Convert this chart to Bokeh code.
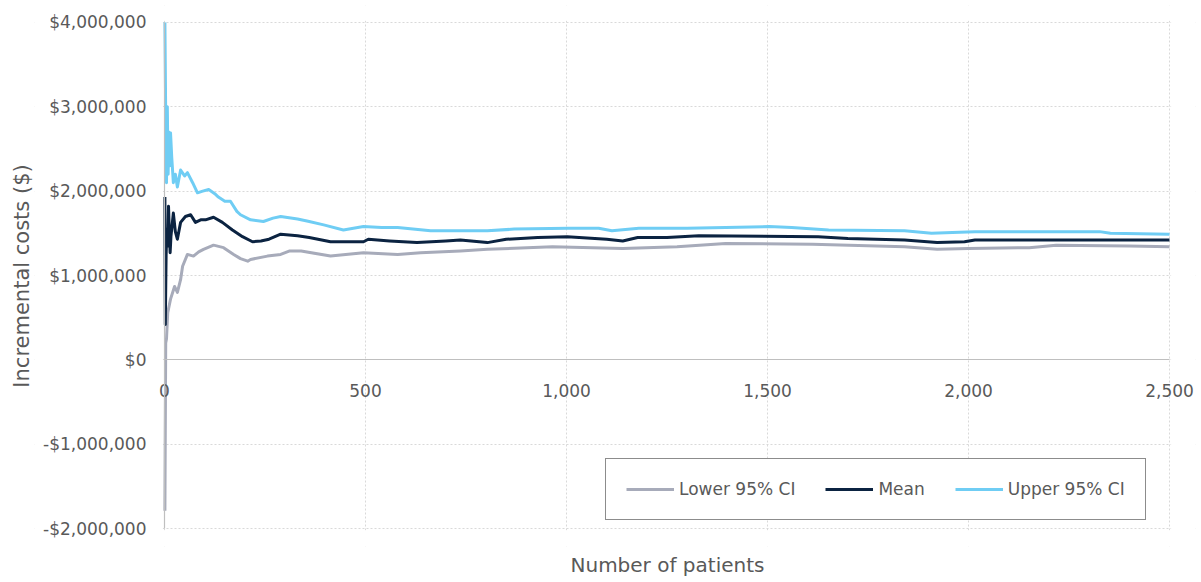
from bokeh.plotting import figure
from bokeh.models import (FixedTicker, LinearAxis, Legend, LegendItem, ColumnDataSource,
                          BoxAnnotation, Title)
from bokeh.embed import file_html
from bokeh.resources import INLINE

# ---------------- data ----------------
lower_patients = [1, 3, 5, 8, 15, 25, 32, 40, 45, 57, 72, 85, 97, 122, 147, 172, 189, 207, 214,
                  256, 289, 310, 340, 413, 495, 580, 637, 736, 803, 965, 1140, 1275, 1396, 1612,
                  1841, 1922, 2000, 2151, 2218, 2400, 2500]
lower_cost = [-1790000, 200000, 250000, 560000, 720000, 870000, 800000, 950000, 1110000, 1250000,
              1230000, 1280000, 1310000, 1360000, 1330000, 1250000, 1200000, 1170000, 1190000,
              1230000, 1250000, 1290000, 1290000, 1230000, 1270000, 1250000, 1270000, 1290000,
              1310000, 1340000, 1320000, 1340000, 1380000, 1370000, 1340000, 1310000, 1320000,
              1330000, 1360000, 1350000, 1340000]

mean_patients = [1, 2, 4, 6, 8, 10, 12, 14, 16, 19, 22, 27, 32, 40, 52, 65, 77, 90, 102, 122, 144,
                 169, 194, 219, 240, 260, 289, 331, 360, 413, 495, 507, 560, 628, 700, 736, 803,
                 850, 928, 1002, 1100, 1140, 1177, 1250, 1329, 1626, 1700, 1841, 1922, 1990, 2016,
                 2500]
mean_cost = [1930000, 420000, 1250000, 1550000, 1350000, 1820000, 1500000, 1270000, 1460000,
             1600000, 1740000, 1520000, 1430000, 1630000, 1700000, 1720000, 1630000, 1660000,
             1660000, 1690000, 1630000, 1540000, 1460000, 1400000, 1410000, 1430000, 1490000,
             1470000, 1450000, 1400000, 1400000, 1430000, 1410000, 1390000, 1410000, 1420000,
             1390000, 1430000, 1450000, 1460000, 1430000, 1410000, 1450000, 1450000, 1470000,
             1460000, 1440000, 1420000, 1390000, 1400000, 1420000, 1420000]

upper_patients = [1, 3, 5, 7, 9, 11, 13, 15, 18, 22, 27, 32, 40, 50, 57, 70, 82, 95, 110, 125, 134,
                  150, 164, 180, 189, 214, 246, 270, 289, 331, 360, 396, 445, 495, 540, 580, 662,
                  736, 803, 870, 1005, 1080, 1113, 1180, 1300, 1396, 1504, 1560, 1652, 1841, 1908,
                  1960, 2016, 2326, 2353, 2500]
upper_cost = [4000000, 2900000, 2100000, 3000000, 2200000, 2700000, 2300000, 2690000, 2400000,
              2100000, 2200000, 2050000, 2250000, 2180000, 2220000, 2100000, 1980000, 2000000,
              2020000, 1970000, 1930000, 1880000, 1880000, 1760000, 1720000, 1660000, 1640000,
              1680000, 1700000, 1670000, 1640000, 1600000, 1540000, 1580000, 1570000, 1570000,
              1530000, 1530000, 1530000, 1550000, 1560000, 1560000, 1530000, 1560000, 1560000,
              1570000, 1580000, 1570000, 1540000, 1530000, 1500000, 1510000, 1520000, 1520000,
              1500000, 1490000]

series_names = ["Lower 95% CI", "Mean", "Upper 95% CI"]
series_colors = ["#A7ABBA", "#0B2341", "#6FCDF4"]

x_ticks = [0, 500, 1000, 1500, 2000, 2500]
x_tick_labels = ["0", "500", "1,000", "1,500", "2,000", "2,500"]
y_ticks = [-2000000, -1000000, 0, 1000000, 2000000, 3000000, 4000000]
y_tick_labels = ["-$2,000,000", "-$1,000,000", "$0", "$1,000,000", "$2,000,000",
                 "$3,000,000", "$4,000,000"]

X_MIN, X_MAX = 0, 2500
Y_MIN, Y_MAX = -2000000, 4000000

FONT = "DejaVu Sans"
TEXT = "#595959"
FS = "17px"

# The frame is a little larger than the data area so that axes drawn at x = 0 / y = 0
# (Excel style) keep their labels unclipped; the extra area is masked white.
p = figure(width=1200, height=580, x_range=(-323.4, 2564.7), y_range=(-2212600, 4200800),
           output_backend="svg", toolbar_location=None,
           min_border_left=34, min_border_right=5, min_border_top=5, min_border_bottom=32)
p.outline_line_color = None
p.background_fill_color = "white"
p.border_fill_color = "white"

# x axis drawn at y = 0
xa = p.xaxis[0]
xa.ticker = FixedTicker(ticks=x_ticks)
xa.major_label_overrides = dict(zip(x_ticks, x_tick_labels))
xa.fixed_location = 0
xa.bounds = (X_MIN, X_MAX)
xa.axis_line_color = "#BFBFBF"
xa.axis_line_width = 1.2
xa.major_tick_out = 0
xa.major_tick_in = 0
xa.minor_tick_out = 0
xa.minor_tick_in = 0
xa.major_label_standoff = 24
xa.major_label_text_font = FONT
xa.major_label_text_font_size = FS
xa.major_label_text_color = TEXT

# y axis drawn at x = 0
ya = p.yaxis[0]
ya.ticker = FixedTicker(ticks=y_ticks)
ya.major_label_overrides = dict(zip(y_ticks, y_tick_labels))
ya.fixed_location = 0
ya.bounds = (Y_MIN, Y_MAX)
ya.axis_line_color = "#BFBFBF"
ya.axis_line_width = 1.2
ya.major_tick_out = 0
ya.major_tick_in = 0
ya.minor_tick_out = 0
ya.minor_tick_in = 0
ya.major_label_standoff = 18
ya.major_label_text_font = FONT
ya.major_label_text_font_size = FS
ya.major_label_text_color = TEXT

# left side axis that only carries the y title
y_title_axis = LinearAxis(ticker=FixedTicker(ticks=[]), axis_label="Incremental costs ($)",
                          axis_line_color=None, major_tick_out=0, major_tick_in=0,
                          minor_tick_out=0, minor_tick_in=0, major_label_standoff=0,
                          major_label_text_font_size="0px", axis_label_standoff=1,
                          axis_label_text_font=FONT, axis_label_text_font_size="21px",
                          axis_label_text_font_style="normal", axis_label_text_color=TEXT)
p.add_layout(y_title_axis, "left")

# x title, placed under the data area
x_title = Title(text="Number of patients", align="left", offset=536, standoff=8,
                text_font=FONT, text_font_size="20px", text_font_style="normal",
                text_color=TEXT)
p.add_layout(x_title, "below")

for g in (p.xgrid[0], p.ygrid[0]):
    g.grid_line_color = "#D9D9D9"
    g.grid_line_dash = "2 2"
    g.grid_line_width = 1
p.xgrid[0].ticker = FixedTicker(ticks=x_ticks)
p.ygrid[0].ticker = FixedTicker(ticks=y_ticks)

# white masks over the grid outside the data area (kept just clear of the edge lines)
for kw in (dict(right=X_MIN - 4), dict(left=X_MAX + 4),
           dict(top=Y_MIN - 20000), dict(bottom=Y_MAX + 20000)):
    p.add_layout(BoxAnnotation(fill_color="white", fill_alpha=1, line_alpha=0,
                               level="underlay", **kw))

# ---------------- lines ----------------
renderers = []
for xs, ys, col in ((lower_patients, lower_cost, series_colors[0]),
                    (mean_patients, mean_cost, series_colors[1]),
                    (upper_patients, upper_cost, series_colors[2])):
    src = ColumnDataSource(dict(x=xs, y=ys))
    r = p.line("x", "y", source=src, line_color=col, line_width=3, line_join="round")
    renderers.append(r)

legend = Legend(items=[LegendItem(label=n, renderers=[r]) for n, r in zip(series_names, renderers)],
                orientation="horizontal", location=(571, 26), margin=0, padding=20, spacing=30,
                glyph_width=48, glyph_height=20, label_height=20, label_standoff=5,
                label_text_font=FONT, label_text_font_size=FS, label_text_color=TEXT,
                border_line_color="#1A1A1A", border_line_width=1.5,
                background_fill_color="white", background_fill_alpha=1)
p.add_layout(legend)

open("out.html", "w").write(file_html(p, INLINE))
